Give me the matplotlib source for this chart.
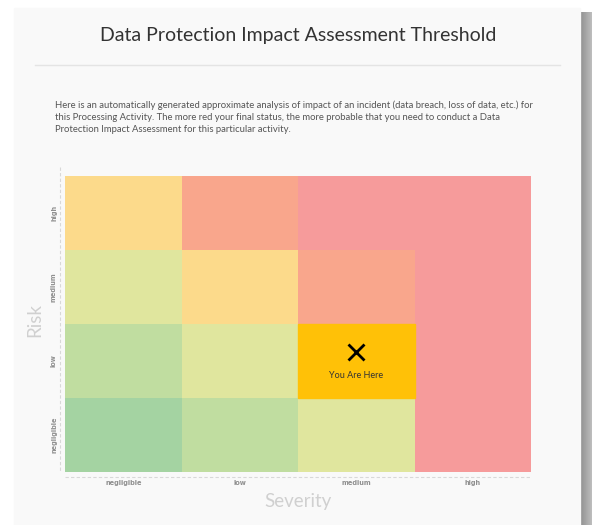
import numpy as np
import matplotlib.pyplot as plt
from matplotlib.colors import ListedColormap
from matplotlib.patches import Rectangle

# data
severity = ["negligible", "low", "medium", "high"]
risk = ["negligible", "low", "medium", "high"]
# level of each cell, rows = risk (bottom -> top), cols = severity
levels = [[0, 1, 2, 5],
          [1, 2, 4, 5],
          [2, 3, 4, 5],
          [3, 4, 5, 5]]
level_colors = ["#a4d3a2", "#c0dda0", "#e0e69e", "#fcda8b", "#f9a68c", "#f69b9b"]
current_severity = "medium"
current_risk = "low"
current_color = "#ffc107"

title = "Data Protection Impact Assessment Threshold"
intro = ("Here is an automatically generated approximate analysis of impact of an incident (data breach, loss of data, etc.) for\n"
         "this Processing Activity. The more red your final status, the more probable that you need to conduct a Data\n"
         "Protection Impact Assessment for this particular activity.")

W, H = 592, 525
Fig = plt.figure(figsize=(W/100, H/100), dpi=100)
Fig.patch.set_facecolor("white")

def px(x, y):
    return x / W, 1 - y / H

# card + shadow
bg = Fig.add_axes([0, 0, 1, 1])
bg.set_xlim(0, W); bg.set_ylim(H, 0); bg.axis("off")
shadow = np.linspace(0.55, 0.75, 14)[None, :].repeat(10, axis=0)
bg.imshow(shadow, cmap="gray", vmin=0, vmax=1, extent=(579, 593, H, 12), aspect="auto")
bg.add_patch(Rectangle((14, 8), 566, H, color="#f9f9f9", zorder=2))
bg.plot([35, 560], [65, 65], color="#e4e4e4", lw=1, zorder=3)
bg.set_xlim(0, W); bg.set_ylim(H, 0)

font = ["Lato", "DejaVu Sans"]
Fig.text(*px(298, 36), title, ha="center", va="center", fontsize=14,
         color="#333333", family=font)
Fig.text(*px(55, 117), intro, ha="left", va="center", fontsize=6.8,
         color="#555555", family=font, linespacing=1.45)

# heatmap
x0, x1, y0, y1 = 65, 531, 176, 472
l, b = px(x0, y1)
Ax = Fig.add_axes([l, b, (x1 - x0) / W, (y1 - y0) / H])
grid = np.array(levels)
cmap = ListedColormap(level_colors)
Ax.pcolormesh(np.arange(5), np.arange(5), grid, cmap=cmap, vmin=-0.5, vmax=5.5)
ci = severity.index(current_severity)
ri = risk.index(current_risk)
Ax.add_patch(Rectangle((ci, ri), 1, 1, color=current_color))
Ax.plot(ci + 0.5, ri + 0.62, marker="x", ms=12, mew=2, color="black")
Ax.text(ci + 0.5, ri + 0.31, "You Are Here", ha="center", va="center",
        fontsize=6.5, color="#333333", family=font)
Ax.set_xlim(0, 4); Ax.set_ylim(0, 4)
for s in Ax.spines.values():
    s.set_visible(False)
Ax.set_xticks([]); Ax.set_yticks([])

# dashed axis lines
bg.plot([60, 60], [167, 472], color="#d8d8d8", lw=0.8, ls=(0, (3, 2)), zorder=3)
bg.plot([65, 531], [477, 477], color="#d8d8d8", lw=0.8, ls=(0, (3, 2)), zorder=3)

tick_font = ["DejaVu Sans"]
for i, name in enumerate(severity):
    xc = x0 + (i + 0.5) * (x1 - x0) / 4
    Fig.text(*px(xc, 483), name, ha="center", va="center", fontsize=4.8,
             fontweight="bold", color="#8f8f8f", family=tick_font)
for i, name in enumerate(risk):
    yc = y1 - (i + 0.5) * (y1 - y0) / 4
    Fig.text(*px(54, yc), name, ha="center", va="center", fontsize=4.8,
             fontweight="bold", color="#8f8f8f", family=tick_font, rotation=90)

Fig.text(*px(298, 501), "Severity", ha="center", va="center", fontsize=13.5,
         color="#d0d0d0", family=font)
Fig.text(*px(35, 320), "Risk", ha="center", va="center", fontsize=13.5,
         color="#d0d0d0", family=font, rotation=90)

Fig.savefig("out.png", dpi=100, facecolor="white")
